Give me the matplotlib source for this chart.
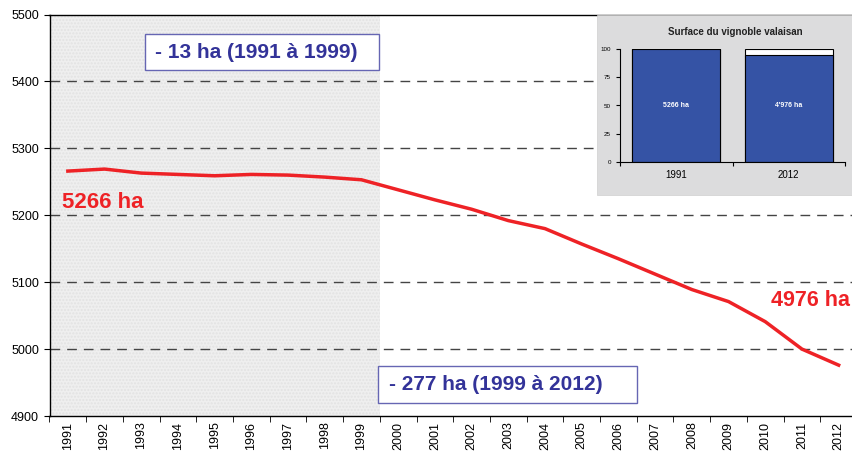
import numpy as np
import matplotlib
matplotlib.use('Agg')
import matplotlib.pyplot as plt
from matplotlib.patches import Rectangle

plt.rcParams['font.family'] = ['Liberation Sans', 'DejaVu Sans']

# surface du vignoble valaisan (ha)
annees = list(range(1991, 2013))
surface = [5266, 5269, 5263, 5261, 5259, 5261, 5260, 5257, 5253,
           5238, 5223, 5209, 5192, 5180, 5157, 5135, 5112, 5089,
           5071, 5041, 5000, 4976]

# encart : 1991 vs 2012 en % de 1991
encart_cat = ['1991', '2012']
encart_val = [100, 4976 / 5266 * 100]
encart_lab = ['5266 ha', "4'976 ha"]

W, H = 852, 457
def fx(x): return x / W
def fy(y): return 1 - y / H

fig = plt.figure(figsize=(W / 100, H / 100), dpi=100)
ax = fig.add_axes([fx(49.5), fy(416), (857 - 49.5) / W, (416 - 14.5) / H])

x = np.arange(len(annees))
ax.axvspan(-0.5, 8.5, facecolor='#efefef', edgecolor='#e2e2e2', hatch='.....', linewidth=0, zorder=0)
for v in [5000, 5100, 5200, 5300, 5400]:
    ax.axhline(v, color='#444444', lw=1, dashes=(7, 5), zorder=1)
ax.plot(x, surface, color='#ee2226', lw=2.5, zorder=3)

ax.set_xlim(-0.5, len(annees) - 0.5)
ax.set_ylim(4900, 5500)
ax.set_yticks(np.arange(4900, 5501, 100))
ax.set_xticks(x)
ax.set_xticklabels([str(a) for a in annees], rotation=90)
ax.set_xticks(np.arange(-0.5, len(annees), 1), minor=True)
ax.tick_params(axis='x', which='major', length=0, pad=4, labelsize=9)
ax.tick_params(axis='x', which='minor', length=4)
ax.tick_params(axis='y', length=4, labelsize=9)
ax.spines['right'].set_visible(False)
for s in ['left', 'bottom', 'top']:
    ax.spines[s].set_linewidth(1)

# cadres bleus
bleu = '#333399'
fig.patches.append(Rectangle((fx(145), fy(70)), 234 / W, 36 / H, transform=fig.transFigure,
                             facecolor='white', edgecolor='#6666b3', lw=1, zorder=5))
fig.text(fx(155), fy(52), '- 13 ha (1991 à 1999)', color=bleu, fontsize=15,
         fontweight='bold', ha='left', va='center', zorder=6)
fig.patches.append(Rectangle((fx(378), fy(403)), 259 / W, 37 / H, transform=fig.transFigure,
                             facecolor='white', edgecolor='#6666b3', lw=1, zorder=5))
fig.text(fx(389), fy(384.5), '- 277 ha (1999 à 2012)', color=bleu, fontsize=15,
         fontweight='bold', ha='left', va='center', zorder=6)

fig.text(fx(62), fy(203), '5266 ha', color='#ee2226', fontsize=16, fontweight='bold',
         ha='left', va='center')
fig.text(fx(850), fy(301), '4976 ha', color='#ee2226', fontsize=15.5, fontweight='bold',
         ha='right', va='center')

# encart
fig.patches.append(Rectangle((fx(597), fy(195)), 260 / W, 180 / H, transform=fig.transFigure,
                             facecolor='#dcdcdd', edgecolor='#cfcfcf', lw=0.5, zorder=4))
ax2 = fig.add_axes([fx(620), fy(162), 225 / W, 113 / H], zorder=5)
ax2.patch.set_visible(False)
xi = np.arange(len(encart_cat))
ax2.bar(xi, [100, 100], width=0.78, color='white', edgecolor='black', lw=0.8)
ax2.bar(xi, encart_val, width=0.78, color='#3553a5', edgecolor='black', lw=0.8)
for i, t in enumerate(encart_lab):
    ax2.text(xi[i], 50, t, color='white', fontsize=5, fontweight='bold', ha='center', va='center')
ax2.set_xlim(-0.5, 1.5)
ax2.set_ylim(0, 100)
ax2.set_yticks([0, 25, 50, 75, 100])
ax2.set_xticks(xi)
ax2.set_xticklabels(encart_cat)
ax2.set_xticks([-0.5, 0.5, 1.5], minor=True)
ax2.tick_params(axis='x', which='major', length=0, labelsize=7, pad=6)
ax2.tick_params(axis='x', which='minor', length=3, width=0.8)
ax2.tick_params(axis='y', labelsize=4.5, length=3, width=0.8)
ax2.spines['top'].set_visible(False)
ax2.spines['right'].set_visible(False)
ax2.spines['left'].set_linewidth(0.8)
ax2.spines['bottom'].set_linewidth(0.8)
fig.text(fx(735), fy(32), 'Surface du vignoble valaisan', fontsize=7, fontweight='bold',
         ha='center', va='center', color='#222222', zorder=6)

fig.savefig('out.png', dpi=100)
